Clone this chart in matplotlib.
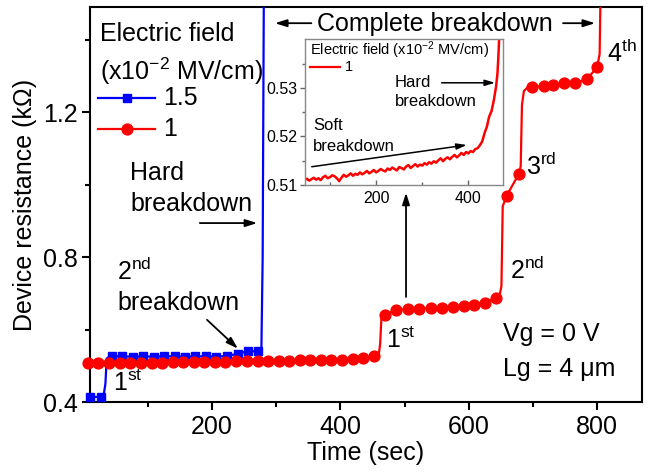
import matplotlib
matplotlib.use('Agg')
import matplotlib.pyplot as plt
from matplotlib.lines import Line2D

plt.rcParams['font.family'] = ['Liberation Sans', 'DejaVu Sans']
plt.rcParams['mathtext.fontset'] = 'custom'
plt.rcParams['mathtext.rm'] = 'Liberation Sans'
plt.rcParams['mathtext.it'] = 'Liberation Sans:italic'
plt.rcParams['mathtext.bf'] = 'Liberation Sans:bold'

# ---------------- data ----------------
# Field 1.5 x10^-2 MV/cm (blue)
blue_t = [10, 27, 31, 34, 36, 40, 44, 60, 77, 93, 109, 126, 142, 158, 174, 191,
          207, 223, 240, 256, 272, 277, 279, 281]
blue_r = [0.414, 0.414, 0.416, 0.45, 0.52, 0.525, 0.526, 0.526, 0.525, 0.526,
          0.525, 0.526, 0.526, 0.525, 0.526, 0.526, 0.525, 0.527, 0.533, 0.540,
          0.540, 0.543, 0.80, 1.60]
blue_marker_idx = [0, 1, 6, 7, 8, 9, 10, 11, 12, 13, 14, 15, 16, 17, 18, 19, 20]

# Field 1 x10^-2 MV/cm (red)
red_t = [7, 23, 40, 56, 73, 89, 106, 122, 139, 155, 172, 188, 205, 221, 238, 254,
         271, 287, 304, 320, 337, 353, 370, 386, 403, 419, 436, 452, 460, 462,
         464, 470, 487, 506, 523, 541, 559, 576, 593, 609, 626, 642, 648, 651,
         653, 659, 678, 681, 683, 686, 691, 698, 717, 732, 748, 766, 784, 800,
         804, 806]
red_r = [0.507, 0.507, 0.508, 0.508, 0.508, 0.509, 0.509, 0.509, 0.510, 0.510,
         0.510, 0.511, 0.511, 0.511, 0.512, 0.512, 0.513, 0.513, 0.514, 0.514,
         0.515, 0.515, 0.516, 0.516, 0.517, 0.519, 0.522, 0.527, 0.532, 0.560,
         0.630, 0.641, 0.654, 0.657, 0.658, 0.659, 0.660, 0.662, 0.664, 0.668,
         0.674, 0.686, 0.693, 0.72, 0.94, 0.969, 1.029, 1.05, 1.22, 1.258,
         1.267, 1.269, 1.272, 1.276, 1.279, 1.281, 1.290, 1.324, 1.36, 1.60]
red_marker_idx = list(range(0, 28)) + list(range(31, 42)) + [45, 46] + list(range(51, 58))

# Inset: field 1 x10^-2 MV/cm, detail before hard breakdown
inset_t = [45, 50, 55, 60, 65, 70, 75, 80, 85, 90, 95, 100, 105, 110, 115, 120,
           125, 130, 135, 140, 145, 150, 155, 160, 165, 170, 175, 180, 185, 190,
           195, 200, 205, 210, 215, 220, 225, 230, 235, 240, 245, 250, 255, 260,
           265, 270, 275, 280, 285, 290, 295, 300, 305, 310, 315, 320, 325, 330,
           335, 340, 345, 350, 355, 360, 365, 370, 375, 380, 385, 390, 395, 400,
           405, 410, 415, 420, 425, 430, 435, 440, 445, 450, 455, 460, 463, 465,
           467, 469]
inset_r = [0.5110, 0.5113, 0.5109, 0.5112, 0.5115, 0.5111, 0.5114, 0.5110,
           0.5116, 0.5119, 0.5114, 0.5116, 0.5120, 0.5118, 0.5114, 0.5108,
           0.5115, 0.5121, 0.5117, 0.5120, 0.5124, 0.5119, 0.5123, 0.5121,
           0.5126, 0.5122, 0.5125, 0.5129, 0.5124, 0.5127, 0.5131, 0.5126,
           0.5129, 0.5133, 0.5130, 0.5128, 0.5134, 0.5131, 0.5136, 0.5133,
           0.5130, 0.5137, 0.5135, 0.5132, 0.5138, 0.5141, 0.5135, 0.5139,
           0.5143, 0.5138, 0.5142, 0.5140, 0.5145, 0.5142, 0.5147, 0.5144,
           0.5149, 0.5146, 0.5151, 0.5155, 0.5149, 0.5154, 0.5157, 0.5153,
           0.5158, 0.5162, 0.5157, 0.5161, 0.5166, 0.5162, 0.5168, 0.5165,
           0.5170, 0.5168, 0.5174, 0.5176, 0.5182, 0.5190, 0.5207, 0.5220,
           0.5241, 0.5252, 0.5274, 0.5303, 0.5330, 0.5365, 0.5410, 0.5460]

field_labels = ['1.5', '1']
main_xticks = [200, 400, 600, 800]
main_yticks = [0.4, 0.8, 1.2]
inset_xticks = [200, 400]
inset_yticks = [0.51, 0.52, 0.53]

BLUE = '#0000FF'
RED = '#FF0000'
FS = 18

fig = plt.figure(figsize=(6.49, 4.72), dpi=100)
ax = fig.add_axes([90/649, 70/472, 552/649, 395/472])

# lines (clipped) and markers (unclipped at the edge)
ax.plot(blue_t, blue_r, color=BLUE, lw=1.6, zorder=3)
ax.plot([blue_t[i] for i in blue_marker_idx], [blue_r[i] for i in blue_marker_idx],
        ls='none', marker='s', ms=6.2, color=BLUE, mec=BLUE, clip_on=False, zorder=3)
ax.plot(red_t, red_r, color=RED, lw=1.6, zorder=4)
ax.plot([red_t[i] for i in red_marker_idx], [red_r[i] for i in red_marker_idx],
        ls='none', marker='o', ms=7.8, color=RED, mec=RED, clip_on=False, zorder=4)

ax.set_xlim(10, 870)
ax.set_ylim(0.4, 1.49)
ax.set_xticks(main_xticks)
ax.set_xticks([100, 300, 500, 700], minor=True)
ax.set_yticks(main_yticks)
ax.set_yticks([0.6, 1.0, 1.4], minor=True)
ax.set_yticklabels([f'{v:.1f}' for v in main_yticks])
ax.tick_params(which='major', length=6, width=1.5, labelsize=FS, pad=3, direction='out')
ax.tick_params(which='minor', length=3.5, width=1.5, direction='out')
for s in ax.spines.values():
    s.set_linewidth(1.5)
ax.set_xlabel('Time (sec)', fontsize=FS, labelpad=2)
ax.set_ylabel('Device resistance (k\u03a9)', fontsize=FS, labelpad=4)

T = ax.transAxes
# manual legend
ax.text(0.018, 0.932, 'Electric field', transform=T, fontsize=FS, va='center', ha='left')
ax.text(0.018, 0.836, '(x10$^{-2}$ MV/cm)', transform=T, fontsize=FS, va='center', ha='left')
for yy, col, mk, ms, lab in [(0.770, BLUE, 's', 6.2, field_labels[0]), (0.690, RED, 'o', 7.8, field_labels[1])]:
    ax.add_line(Line2D([0.015, 0.118], [yy, yy], transform=T, color=col, lw=1.6))
    ax.add_line(Line2D([0.0665], [yy], transform=T, color=col, marker=mk, ms=ms, mec=col))
    ax.text(0.132, yy, lab, transform=T, fontsize=FS, va='center', ha='left')

arrow_kw = dict(arrowstyle='-|>,head_length=0.7,head_width=0.22', color='black', lw=1.3,
                shrinkA=0, shrinkB=0)

ax.text(0.0725, 0.580, 'Hard', transform=T, fontsize=FS, va='center')
ax.text(0.0725, 0.501, 'breakdown', transform=T, fontsize=FS, va='center')
ax.annotate('', xy=(0.303, 0.453), xytext=(0.199, 0.453), xycoords=T, textcoords=T, arrowprops=arrow_kw)

ax.text(0.049, 0.330, '2$^{\\mathrm{nd}}$', transform=T, fontsize=FS, va='center')
ax.text(0.049, 0.251, 'breakdown', transform=T, fontsize=FS, va='center')
ax.annotate('', xy=(0.268, 0.135), xytext=(0.212, 0.208), xycoords=T, textcoords=T, arrowprops=arrow_kw)

ax.text(0.042, 0.048, '1$^{\\mathrm{st}}$', transform=T, fontsize=FS, va='center')
ax.text(0.537, 0.157, '1$^{\\mathrm{st}}$', transform=T, fontsize=FS, va='center')
ax.text(0.761, 0.334, '2$^{\\mathrm{nd}}$', transform=T, fontsize=FS, va='center')
ax.text(0.789, 0.596, '3$^{\\mathrm{rd}}$', transform=T, fontsize=FS, va='center')
ax.text(0.936, 0.883, '4$^{\\mathrm{th}}$', transform=T, fontsize=FS, va='center')

ax.text(0.625, 0.957, 'Complete breakdown', transform=T, fontsize=FS, va='center', ha='center')
ax.annotate('', xy=(0.335, 0.959), xytext=(0.401, 0.959), xycoords=T, textcoords=T, arrowprops=arrow_kw)
ax.annotate('', xy=(0.915, 0.959), xytext=(0.857, 0.959), xycoords=T, textcoords=T, arrowprops=arrow_kw)

ax.annotate('', xy=(0.5725, 0.530), xytext=(0.5725, 0.266), xycoords=T, textcoords=T, arrowprops=arrow_kw)

ax.text(0.749, 0.172, 'Vg = 0 V', transform=T, fontsize=FS, va='center')
ax.text(0.749, 0.083, 'Lg = 4 \u03bcm', transform=T, fontsize=FS, va='center')

# ---------------- inset ----------------
ins = fig.add_axes([305/649, (472-185)/472, 198/649, 146/472])
ins.plot(inset_t, inset_r, color=RED, lw=1.8)
ins.set_xlim(46, 475)
ins.set_ylim(0.51, 0.5401)
ins.set_xticks(inset_xticks)
ins.set_xticks([100, 300], minor=True)
ins.set_yticks(inset_yticks)
ins.set_yticks([0.515, 0.525, 0.535], minor=True)
ins.set_yticklabels([f'{v:.2f}' for v in inset_yticks])
ins.tick_params(axis='x', which='both', direction='in', labelsize=11.5, pad=4, color='#666666')
ins.tick_params(axis='y', which='both', direction='out', labelsize=11.5, pad=2, color='#666666')
ins.tick_params(which='major', length=3.5, width=1)
ins.tick_params(which='minor', length=2, width=1)
for s in ins.spines.values():
    s.set_linewidth(1.0)
    s.set_color('#888888')

IT = ins.transAxes
ins.text(0.025, 0.925, 'Electric field (x10$^{-2}$ MV/cm)', transform=IT, fontsize=10.5, va='center')
ins.add_line(Line2D([0.025, 0.177], [0.808, 0.808], transform=IT, color=RED, lw=1.6))
ins.text(0.20, 0.808, '1', transform=IT, fontsize=10.5, va='center')

ins.text(0.455, 0.70, 'Hard', transform=IT, fontsize=12, va='center')
ins.text(0.455, 0.57, 'breakdown', transform=IT, fontsize=12, va='center')
ins.annotate('', xy=(0.96, 0.70), xytext=(0.69, 0.70), xycoords=IT, textcoords=IT,
             arrowprops=dict(arrowstyle='-|>,head_length=0.6,head_width=0.18', color='black', lw=1.1, shrinkA=0, shrinkB=0))
ins.text(0.042, 0.406, 'Soft', transform=IT, fontsize=12, va='center')
ins.text(0.042, 0.262, 'breakdown', transform=IT, fontsize=12, va='center')
ins.annotate('', xy=(0.817, 0.274), xytext=(0.034, 0.125), xycoords=IT, textcoords=IT,
             arrowprops=dict(arrowstyle='-|>,head_length=0.6,head_width=0.18', color='black', lw=1.1, shrinkA=0, shrinkB=0))

fig.savefig('out.png', dpi=100)
